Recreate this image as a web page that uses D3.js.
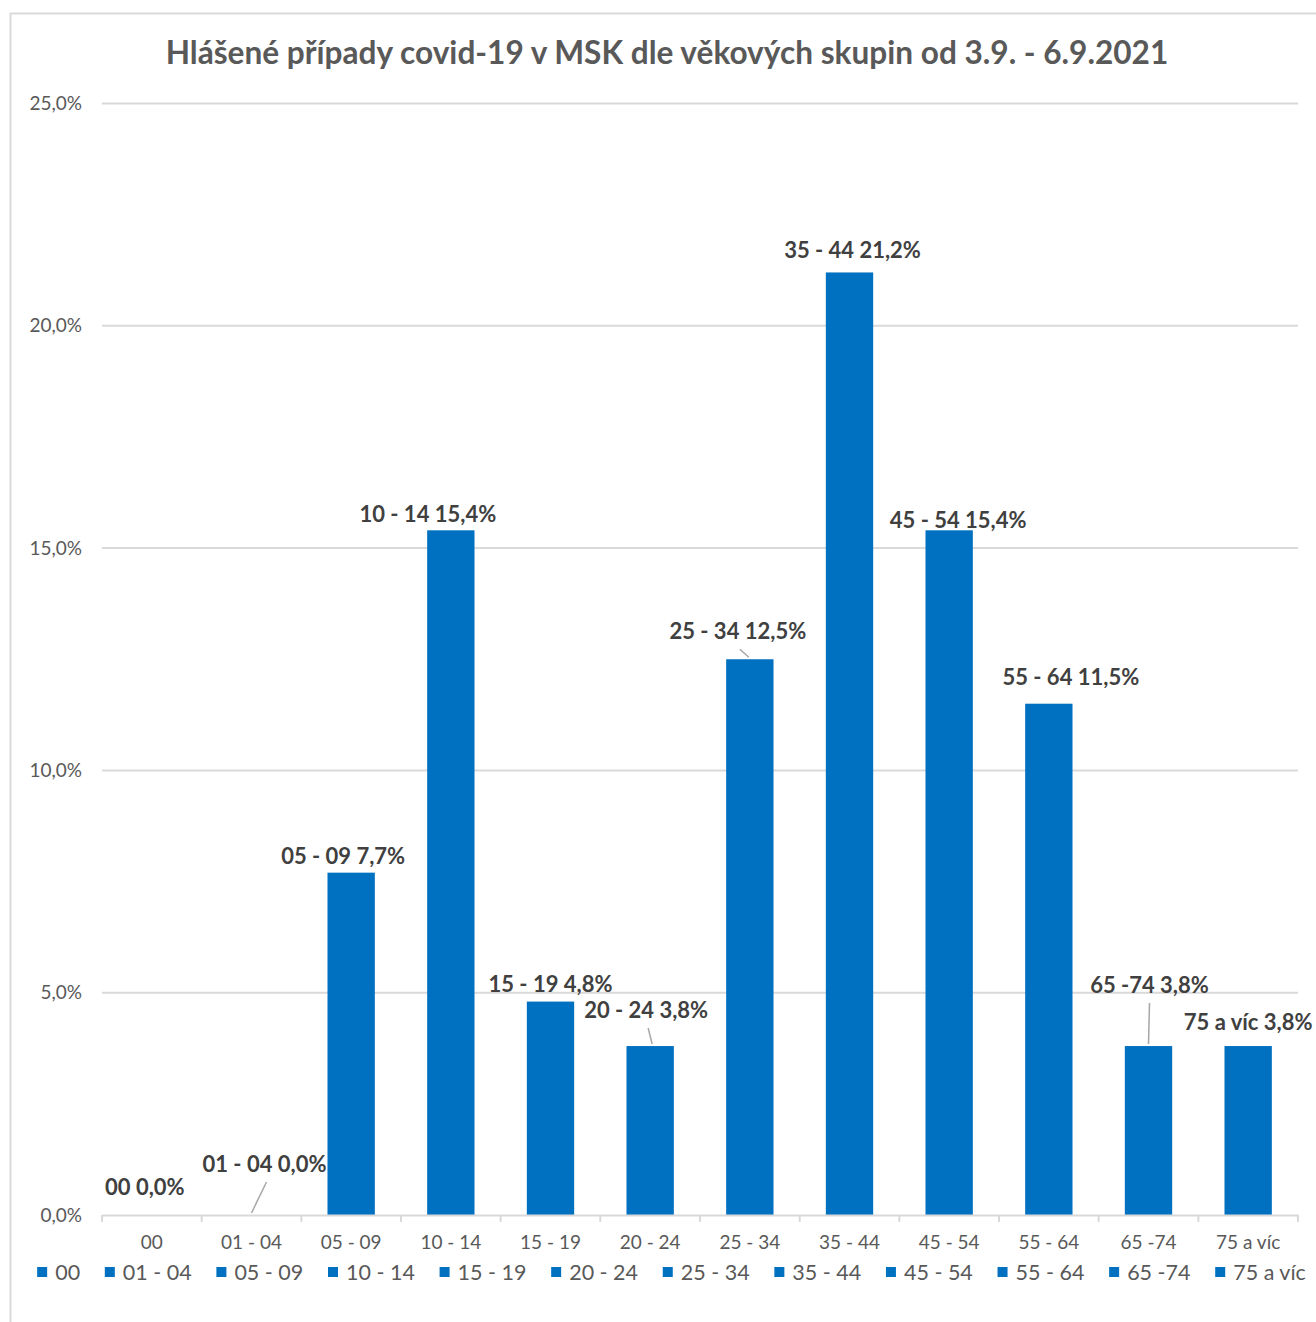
<!DOCTYPE html>
<html>
<head>
<meta charset="utf-8">
<script src="https://cdn.jsdelivr.net/npm/d3@7"></script>
<style>
  html, body { margin: 0; padding: 0; background: #fff; }
  svg { display: block; }
</style>
</head>
<body>
<svg id="chart" width="1316" height="1322"></svg>
<script>
// ---- data ----
const title = "Hlášené případy covid-19 v MSK dle věkových skupin od 3.9. - 6.9.2021";
const categories = ["00", "01 - 04", "05 - 09", "10 - 14", "15 - 19", "20 - 24", "25 - 34", "35 - 44", "45 - 54", "55 - 64", "65 -74", "75 a víc"];
const values = [0.0, 0.0, 7.7, 15.4, 4.8, 3.8, 12.5, 21.2, 15.4, 11.5, 3.8, 3.8];
const yTicks = [0, 5, 10, 15, 20, 25];

// label placement (offset of label centre from bar top-centre) - layout only
const labelOffsets = [[-7,-28],[13,-51],[-8,-16],[-23,-16],[0,-17],[-4,-36],[-12,-28],[3,-22],[9,-10],[22,-26],[1,-61],[0,-24]];
const leaderLines = {1: true, 5: true, 6: true, 10: true};

const fmt = v => v.toFixed(1).replace(".", ",") + "%";

const svg = d3.select("#chart");
const FONT = "Lato, 'Open Sans', sans-serif";
const barColor = "#0070C0";
const gridColor = "#D9D9D9";

// chart border
svg.append("rect").attr("x", 10.5).attr("y", 13.5).attr("width", 1330).attr("height", 1330)
  .attr("fill", "#fff").attr("stroke", gridColor).attr("stroke-width", 2);

const x = d3.scaleBand().domain(categories).range([102, 1298]).paddingInner(0.525).paddingOuter(0.2625);
const y = d3.scaleLinear().domain([0, 25]).range([1215, 103.5]);

// title
svg.append("text").attr("x", 667).attr("y", 64).attr("text-anchor", "middle")
  .attr("font-family", FONT).attr("font-weight", "bold").attr("font-size", 31.6)
  .attr("fill", "#595959").text(title);

// gridlines
svg.append("g").selectAll("line").data(yTicks.filter(d => d > 0)).join("line")
  .attr("x1", 102).attr("x2", 1298).attr("y1", d => y(d)).attr("y2", d => y(d))
  .attr("stroke", gridColor).attr("stroke-width", 2);

// y axis labels
const yAxis = d3.axisLeft(y).tickValues(yTicks).tickFormat(fmt).tickSize(0).tickPadding(20);
const gy = svg.append("g").attr("transform", "translate(102,0)").call(yAxis);
gy.select(".domain").remove();
gy.selectAll("text").attr("font-family", FONT).attr("font-size", 19).attr("fill", "#595959");

// bars
svg.append("g").selectAll("rect").data(values).join("rect")
  .attr("x", (d, i) => x(categories[i]))
  .attr("width", x.bandwidth())
  .attr("y", d => y(d))
  .attr("height", d => y(0) - y(d))
  .attr("fill", barColor);

// x axis
const xAxis = d3.axisBottom(x).tickSize(0).tickPadding(21);
const gx = svg.append("g").attr("transform", `translate(0,${y(0)})`).call(xAxis);
gx.select(".domain").attr("stroke", gridColor).attr("stroke-width", 2);
gx.selectAll("text").attr("font-family", FONT).attr("font-size", 19).attr("fill", "#595959");
// tick marks at category boundaries
const bounds = categories.map(c => x(c) - x.step() * x.paddingInner() / 2).concat([1298]);
bounds[0] = 102;
gx.append("g").selectAll("line").data(bounds).join("line")
  .attr("x1", d => d).attr("x2", d => d).attr("y1", 0).attr("y2", 7)
  .attr("stroke", gridColor).attr("stroke-width", 2);

// data labels + leader lines
const lbl = svg.append("g");
values.forEach((v, i) => {
  const cx = x(categories[i]) + x.bandwidth() / 2;
  const top = y(v);
  const [dx, dy] = labelOffsets[i];
  const lx = cx + dx, ly = top + dy;
  if (leaderLines[i]) {
    lbl.append("line")
      .attr("x1", lx + (i === 10 ? 0 : 2)).attr("y1", ly + 18)
      .attr("x2", cx + (i === 6 ? -1 : i === 5 ? 2 : 0)).attr("y2", top - 2)
      .attr("stroke", "#A6A6A6").attr("stroke-width", 1.5);
  }
  lbl.append("text").attr("x", lx).attr("y", ly).attr("dy", "0.35em")
    .attr("text-anchor", "middle")
    .attr("font-family", FONT).attr("font-weight", "bold").attr("font-size", 22)
    .attr("fill", "#404040")
    .text(categories[i] + " " + fmt(v));
});

// legend
const leg = svg.append("g");
const items = leg.selectAll("g").data(categories).join("g");
items.append("rect").attr("width", 10).attr("height", 10).attr("y", -5).attr("fill", barColor);
items.append("text").attr("x", 18).attr("dy", "0.35em")
  .attr("font-family", FONT).attr("font-size", 21.5).attr("fill", "#595959").text(d => d);
let cur = 0;
const gap = 24.7;
items.each(function () {
  const w = 18 + this.querySelector("text").getComputedTextLength();
  d3.select(this).attr("transform", `translate(${cur},1272)`);
  cur += w + gap;
});
const total = cur - gap;
leg.attr("transform", `translate(${671.5 - total / 2},0)`);
</script>
</body>
</html>
